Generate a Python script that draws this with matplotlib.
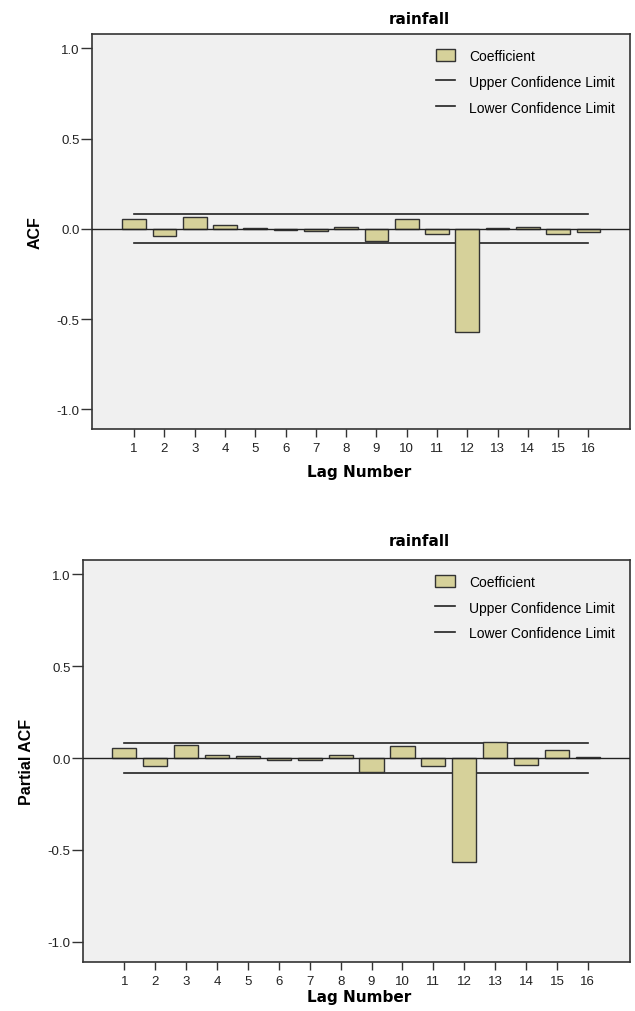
import numpy as np
import matplotlib.pyplot as plt
from matplotlib.patches import Patch
from matplotlib.lines import Line2D

lags = np.arange(1, 17)
acf = [0.052, -0.041, 0.065, 0.022, 0.006, -0.007, -0.013, 0.011,
       -0.070, 0.052, -0.028, -0.574, 0.007, 0.011, -0.030, -0.020]
pacf = [0.053, -0.044, 0.071, 0.016, 0.011, -0.011, -0.013, 0.015,
        -0.073, 0.067, -0.044, -0.565, 0.085, -0.038, 0.044, 0.004]
acf_conf = 0.081
pacf_conf = 0.082
yticks = [1.0, 0.5, 0.0, -0.5, -1.0]
ytick_labels = ['1.0', '0.5', '0.0', '-0.5', '-1.0']

bar_color = '#d6d19a'
edge_color = '#333333'
bg = '#f0f0f0'
tick_font = ['Liberation Sans', 'DejaVu Sans']

fig = plt.figure(figsize=(6.35, 10.12), dpi=100)


def panel(rect, vals, conf, ylabel, xlim, title_x, title_y, lab_y):
    ax = fig.add_axes(rect)
    ax.set_facecolor(bg)
    ax.bar(lags, vals, width=0.78, color=bar_color, edgecolor=edge_color,
           linewidth=1.0, zorder=3)
    ax.plot([lags[0], lags[-1]], [conf, conf], color='#222222', lw=1.2, zorder=2)
    ax.plot([lags[0], lags[-1]], [-conf, -conf], color='#222222', lw=1.2, zorder=2)
    ax.axhline(0, color='#222222', lw=1.0, zorder=4)
    ax.set_xlim(*xlim)
    ax.set_ylim(-1.11, 1.077)
    ax.set_yticks(yticks)
    ax.set_yticklabels(ytick_labels, fontfamily=tick_font, fontsize=9.5,
                       color='#222222')
    ax.set_xticks(lags)
    ax.set_xticklabels([str(l) for l in lags], fontfamily=tick_font,
                       fontsize=9.5, color='#222222')
    ax.tick_params(axis='y', length=8, width=1.0, color='#333333', pad=1)
    ax.tick_params(axis='x', length=6, width=1.0, color='#333333', pad=3)
    for s in ax.spines.values():
        s.set_color('#333333')
        s.set_linewidth(1.2)
    ax.set_ylabel(ylabel, fontfamily=['Liberation Sans Narrow', 'Liberation Sans'],
                  fontweight='bold', fontsize=11.5, labelpad=10)
    fig.text(0.565, lab_y, 'Lag Number', ha='center', va='center',
             fontfamily='DejaVu Sans', fontweight='bold', fontsize=11)
    fig.text(title_x, title_y, 'rainfall', ha='center', va='center',
             fontfamily='DejaVu Sans', fontweight='bold', fontsize=11)
    handles = [Patch(facecolor=bar_color, edgecolor=edge_color, linewidth=1.0),
               Line2D([], [], color='#222222', lw=1.2),
               Line2D([], [], color='#222222', lw=1.2)]
    ax.legend(handles, ['Coefficient', 'Upper Confidence Limit',
                        'Lower Confidence Limit'],
              loc='upper right', bbox_to_anchor=(0.995, 0.995), frameon=False,
              prop={'family': tick_font, 'size': 10}, handlelength=1.4,
              handleheight=1.0, handletextpad=1.0, labelspacing=0.85)
    return ax


panel([0.145, 0.575, 0.847, 0.390], acf, acf_conf, 'ACF', (-0.39, 17.37),
      0.661, 0.981, 0.533)
panel([0.131, 0.0484, 0.861, 0.397], pacf, pacf_conf, 'Partial ACF',
      (-0.33, 17.36), 0.661, 0.465, 0.014)

fig.savefig('out.png', dpi=100, facecolor='white')
